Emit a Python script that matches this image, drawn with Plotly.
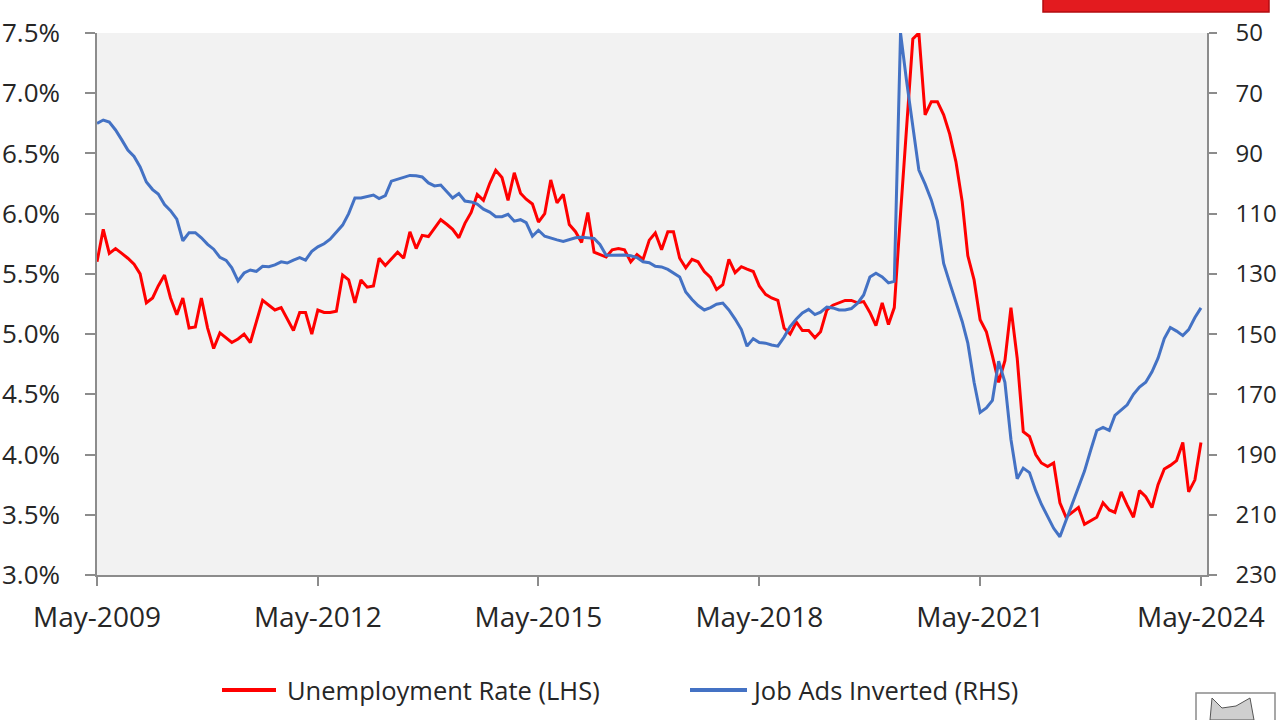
import plotly.graph_objects as go
import pandas as pd

# ---------------- data ----------------
months = pd.date_range("2009-05-01", periods=181, freq="MS")

unemployment_rate = [
    5.60, 5.87, 5.67, 5.71, 5.67, 5.63, 5.58, 5.50, 5.26, 5.30,
    5.40, 5.49, 5.30, 5.16, 5.30, 5.05, 5.06, 5.30, 5.05, 4.88,
    5.01, 4.97, 4.93, 4.96, 5.00, 4.93, 5.10, 5.28, 5.24, 5.20,
    5.22, 5.12, 5.03, 5.18, 5.18, 5.00, 5.20, 5.18, 5.18, 5.19,
    5.49, 5.45, 5.26, 5.45, 5.39, 5.40, 5.63, 5.57, 5.62, 5.68,
    5.63, 5.85, 5.71, 5.82, 5.81, 5.88, 5.95, 5.91, 5.87, 5.80,
    5.92, 6.01, 6.16, 6.11, 6.25, 6.36, 6.30, 6.11, 6.34, 6.17,
    6.12, 6.08, 5.93, 6.00, 6.28, 6.09, 6.16, 5.91, 5.85, 5.76,
    6.01, 5.68, 5.66, 5.64, 5.70, 5.71, 5.70, 5.60, 5.66, 5.62,
    5.78, 5.84, 5.70, 5.85, 5.85, 5.63, 5.55, 5.62, 5.60, 5.52,
    5.47, 5.37, 5.41, 5.62, 5.51, 5.56, 5.54, 5.52, 5.40, 5.33,
    5.30, 5.28, 5.05, 5.00, 5.10, 5.03, 5.03, 4.97, 5.02, 5.20,
    5.24, 5.26, 5.28, 5.28, 5.26, 5.27, 5.18, 5.07, 5.26, 5.08,
    5.22, 6.00, 6.75, 7.45, 7.50, 6.82, 6.93, 6.93, 6.82, 6.66,
    6.43, 6.10, 5.65, 5.45, 5.12, 5.02, 4.82, 4.60, 4.78, 5.22,
    4.80, 4.19, 4.15, 4.00, 3.93, 3.90, 3.93, 3.60, 3.48, 3.52,
    3.56, 3.42, 3.45, 3.48, 3.60, 3.54, 3.52, 3.69, 3.58, 3.48,
    3.70, 3.65, 3.56, 3.75, 3.88, 3.91, 3.95, 4.10, 3.69, 3.79,
    4.10,
]

job_ads_inverted = [
    80.0, 78.9, 79.6, 82.2, 85.5, 88.9, 91.0, 94.5, 99.5, 102.0,
    103.5, 107.0, 109.0, 111.8, 119.0, 116.3, 116.3, 118.0, 120.2, 121.8,
    124.5, 125.5, 128.0, 132.3, 129.7, 128.7, 129.2, 127.5, 127.6, 127.0,
    126.0, 126.4, 125.4, 124.6, 125.4, 122.5, 121.0, 120.0, 118.5, 116.0,
    113.8, 110.0, 104.8, 104.8, 104.2, 103.8, 105.0, 104.0, 99.2, 98.5,
    97.8, 97.3, 97.4, 97.8, 99.8, 100.8, 100.5, 102.8, 104.8, 103.3,
    105.8, 106.1, 106.8, 108.5, 109.5, 111.0, 111.0, 110.2, 112.5, 112.0,
    113.0, 117.5, 115.5, 117.5, 118.2, 118.7, 119.2, 118.5, 118.0, 117.8,
    118.0, 118.2, 120.2, 123.8, 123.8, 123.7, 123.7, 124.0, 124.6, 126.0,
    126.3, 127.5, 127.7, 128.5, 129.7, 131.0, 136.0, 138.5, 140.5, 142.0,
    141.2, 140.1, 139.7, 142.0, 145.0, 148.5, 154.0, 151.5, 152.8, 153.0,
    153.6, 154.0, 151.0, 147.5, 145.0, 143.0, 141.8, 143.5, 142.7, 141.0,
    141.3, 142.0, 142.0, 141.5, 139.7, 137.0, 131.0, 129.8, 131.0, 133.0,
    132.5, 50.0, 66.0, 81.0, 95.5, 100.2, 105.5, 112.5, 126.5, 133.0,
    139.5, 145.8, 153.0, 166.0, 176.0, 174.5, 172.0, 159.0, 166.0, 185.0,
    198.0, 194.5, 196.0, 202.0, 206.5, 210.7, 214.5, 217.3, 212.0, 206.0,
    201.0, 195.5, 188.5, 182.0, 181.0, 182.0, 177.0, 175.3, 173.5, 170.0,
    167.6, 166.0, 162.5, 158.0, 151.5, 147.8, 149.0, 150.5, 148.5, 144.5,
    141.3,
]

x_tick_vals = ["2009-05-01", "2012-05-01", "2015-05-01",
               "2018-05-01", "2021-05-01", "2024-05-01"]
x_tick_text = ["May-2009", "May-2012", "May-2015",
               "May-2018", "May-2021", "May-2024"]

left_tick_vals = [3.0, 3.5, 4.0, 4.5, 5.0, 5.5, 6.0, 6.5, 7.0, 7.5]
left_tick_text = ["3.0%", "3.5%", "4.0%", "4.5%", "5.0%",
                  "5.5%", "6.0%", "6.5%", "7.0%", "7.5%"]

right_tick_vals = [50, 70, 90, 110, 130, 150, 170, 190, 210, 230]
right_tick_text = ["50", "70", "90", "110", "130",
                   "150", "170", "190", "210", "230"]

series_names = ["Unemployment Rate (LHS)", "Job Ads Inverted (RHS)"]

# ---------------- figure ----------------
RED = "#ff0000"
BLUE = "#4472c4"
AXIS = "#8c8c8c"
TXT = "#262626"
FONT = "Open Sans"

fig = go.Figure()
fig.add_trace(go.Scatter(x=months, y=unemployment_rate, name=series_names[0],
                         mode="lines", line=dict(color=RED, width=3), yaxis="y"))
fig.add_trace(go.Scatter(x=months, y=job_ads_inverted, name=series_names[1],
                         mode="lines", line=dict(color=BLUE, width=3), yaxis="y2"))

L, R, T, B = 97, 73, 33, 145
W, H = 1280, 720
pw, ph = W - L - R, H - T - B


def px_x(p):
    return (p - L) / pw


def px_y(p):
    return (H - B - p) / ph


fig.update_layout(
    width=W, height=H,
    margin=dict(l=L, r=R, t=T, b=B, pad=0, autoexpand=False),
    paper_bgcolor="white",
    plot_bgcolor="#f2f2f2",
    showlegend=False,
    font=dict(family=FONT, size=26, color=TXT),
    xaxis=dict(
        type="date", range=["2009-05-01", "2024-05-31"],
        tickvals=x_tick_vals, ticktext=x_tick_text,
        ticks="outside", ticklen=9, tickwidth=1.5, tickcolor=AXIS,
        showline=True, linecolor=AXIS, linewidth=1.5, automargin=False,
        showgrid=False, zeroline=False, ticklabelstandoff=8,
        tickfont=dict(family=FONT, size=28, color=TXT),
    ),
    yaxis=dict(
        range=[3.0, 7.5], tickvals=left_tick_vals, ticktext=left_tick_text,
        ticks="outside", ticklen=10, tickwidth=1.5, tickcolor=AXIS,
        showline=True, linecolor=AXIS, linewidth=1.5, automargin=False,
        showgrid=False, zeroline=False, ticklabelstandoff=20,
        tickfont=dict(family=FONT, size=26, color=TXT),
    ),
    yaxis2=dict(
        overlaying="y", side="right", range=[230, 50],
        tickvals=right_tick_vals, ticktext=right_tick_text,
        ticks="outside", ticklen=8, tickwidth=1.5, tickcolor=AXIS,
        showline=True, linecolor=AXIS, linewidth=1.5, automargin=False,
        showgrid=False, zeroline=False, ticklabelstandoff=14,
        tickfont=dict(family=FONT, size=24, color=TXT),
    ),
)

shapes = []
annotations = []

# manual legend
leg_y = px_y(690)
legend_items = [
    (series_names[0], RED, 222, 276, 285),
    (series_names[1], BLUE, 690, 747, 749),
]
for name, col, x0, x1, tx in legend_items:
    shapes.append(dict(type="line", xref="paper", yref="paper",
                       x0=px_x(x0), x1=px_x(x1), y0=leg_y, y1=leg_y,
                       line=dict(color=col, width=4)))
    annotations.append(dict(text=name, xref="paper", yref="paper",
                            x=px_x(tx), y=leg_y, xanchor="left", yanchor="middle",
                            showarrow=False,
                            font=dict(family=FONT, size=25.5, color=TXT)))

# red header bar (top right)
shapes.append(dict(type="rect", xref="paper", yref="paper",
                   x0=px_x(1043), x1=px_x(1269), y0=px_y(12), y1=px_y(-2),
                   fillcolor="#e31b1f", line=dict(color="#b30d10", width=1.5),
                   layer="above"))

# logo box (bottom right)
shapes.append(dict(type="rect", xref="paper", yref="paper",
                   x0=px_x(1196), x1=px_x(1275), y0=px_y(722), y1=px_y(693),
                   fillcolor="white", line=dict(color="#8a8a8a", width=1.5)))
shapes.append(dict(type="path", xref="paper", yref="paper",
                   path=(f"M {px_x(1210)},{px_y(720)} L {px_x(1212)},{px_y(698)} "
                         f"L {px_x(1222)},{px_y(708)} L {px_x(1236)},{px_y(706)} "
                         f"L {px_x(1250)},{px_y(698)} L {px_x(1254)},{px_y(720)} Z"),
                   fillcolor="#cfcfcf", line=dict(color="#555555", width=1)))

fig.update_layout(shapes=shapes, annotations=annotations)

fig.write_html("out.html")
